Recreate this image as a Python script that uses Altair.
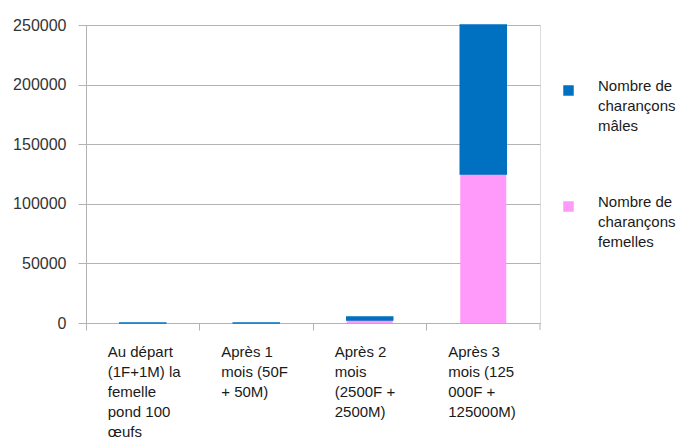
import altair as alt
import pandas as pd

categories = [
    "Au départ|(1F+1M) la|femelle|pond 100|œufs",
    "Après 1|mois (50F|+ 50M)",
    "Après 2|mois|(2500F +|2500M)",
    "Après 3|mois (125|000F +|125000M)",
]
females = [1, 50, 2500, 125000]
males = [1, 50, 2500, 125000]
series = ["Nombre de charançons mâles", "Nombre de charançons femelles"]
colors = ["#0070C0", "#FF99FA"]

rows = []
for c, f, m in zip(categories, females, males):
    rows.append({"cat": c, "serie": series[1], "val": f, "ord": 0})
    rows.append({"cat": c, "serie": series[0], "val": m, "ord": 1})
df = pd.DataFrame(rows)

W, H = 454, 298
GRID = "#b3b3b3"

scale = alt.Scale(domain=series, range=colors)

bars = alt.Chart(df).mark_bar(width=46).encode(
    x=alt.X("cat:N", sort=categories, title=None,
            scale=alt.Scale(paddingInner=0, paddingOuter=0),
            axis=alt.Axis(bandPosition=0, labelAlign="left", labelOffset=-35,
                          labelExpr="split(datum.label, '|')", labelAngle=0,
                          labelLineHeight=20, labelBaseline="top", labelPadding=14,
                          labelFontSize=15, labelFont="Liberation Sans", labelColor="#1a1a1a",
                          tickSize=7, tickColor=GRID, domainColor=GRID,
                          labelLimit=200, grid=False)),
    y=alt.Y("val:Q", stack="zero", title=None,
            scale=alt.Scale(domain=[0, 250000], nice=False),
            axis=alt.Axis(values=[0, 50000, 100000, 150000, 200000, 250000],
                          format="d", labelFontSize=16, labelFont="Liberation Sans",
                          labelColor="#333333", labelPadding=12, tickSize=8,
                          tickColor=GRID, domainColor=GRID,
                          gridColor=GRID, gridWidth=1)),
    color=alt.Color("serie:N", scale=scale,
                    legend=alt.Legend(title=None, orient="none", legendX=475, legendY=58,
                                      symbolType="square", symbolSize=110,
                                      symbolStrokeWidth=0, labelFontSize=15,
                                      labelFont="Liberation Sans", labelColor="#1a1a1a",
                                      labelExpr="split(datum.label, ' ')[0] == 'Nombre' ? ['Nombre de', 'charançons', split(datum.label, ' ')[3]] : datum.label",
                                      labelBaseline="alphabetic",
                                      labelOffset=22, labelLimit=0, rowPadding=60,
                                      padding=0)),
    stroke=alt.Stroke("serie:N", scale=scale, legend=None),
    strokeWidth=alt.condition(alt.datum.ord == 1, alt.value(1.5), alt.value(0)),
    order=alt.Order("ord:Q"),
)

extra_tick = alt.Chart(pd.DataFrame({"x": [0]})).mark_rule(color=GRID).encode(
    x=alt.value(W), y=alt.value(H), y2=alt.value(H + 7)
)

chart = alt.layer(bars, extra_tick).properties(
    width=W, height=H,
    autosize=alt.AutoSizeParams(type="none"),
    padding={"left": 86, "top": 25, "right": 678 - 86 - W, "bottom": 441 - 25 - H},
).configure_view(stroke=None).configure(
    background="white",
    style={"guide-label": {"lineHeight": 20}},
)

chart.save("out.html", embed_options={"renderer": "svg", "actions": False})
